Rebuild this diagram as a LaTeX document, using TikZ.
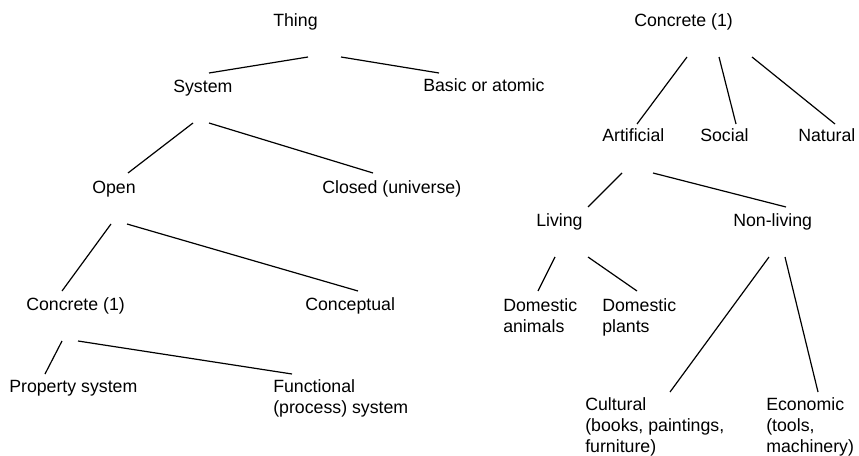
\documentclass[tikz,border=0pt]{standalone}
\usepackage{fontspec}
\setmainfont{Liberation Sans}
\usetikzlibrary{calc}

\tikzset{
  term/.style={anchor=base west, inner sep=0pt, align=left},
  branch/.style={line width=0.9pt}
}

\begin{document}
\begin{tikzpicture}[x=0.75pt, y=-0.75pt, font=\fontsize{13.3}{15.75}\selectfont]
		\useasboundingbox (0,0) rectangle (859,456);
		
		% Left tree (base west = baseline of the last line)
		\node[term] (thing) at (273,27) {Thing};
		\node[term] (system) at (173,93) {System};
		\node[term] (basic) at (423,92) {Basic or atomic};
		\node[term] (open) at (92,193) {Open};
		\node[term] (closed) at (322,193) {Closed (universe)};
		\node[term] (concL) at (26,310) {Concrete (1)};
		\node[term] (conceptual) at (305,310) {Conceptual};
		\node[term] (property) at (9,392) {Property system};
		\node[term] (functional) at (273,413) {Functional\\(process) system};
		
		% Right tree
		\node[term] (concR) at (634,27) {Concrete (1)};
		\node[term] (artificial) at (602,142) {Artificial};
		\node[term] (social) at (700,142) {Social};
		\node[term] (natural) at (798,142) {Natural};
		\node[term] (living) at (536,226) {Living};
		\node[term] (nonliving) at (733,226) {Non-living};
		\node[term] (animals) at (503,332) {Domestic\\animals};
		\node[term] (plants) at (602,332) {Domestic\\plants};
		\node[term] (cultural) at (585,452) {Cultural\\(books, paintings,\\furniture)};
		\node[term] (economic) at (766,452) {Economic\\(tools,\\machinery)};
		
		% Left branches
		\draw[branch] ($(thing.base west)+(35,30)$) -- ($(system.base west)+(36,-20)$);
		\draw[branch] ($(thing.base west)+(68,30)$) -- ($(basic.base west)+(16,-19)$);
		\draw[branch] ($(system.base west)+(20,30)$) -- ($(open.base west)+(36,-20)$);
		\draw[branch] ($(system.base west)+(36,30)$) -- ($(closed.base west)+(51,-20)$);
		\draw[branch] ($(open.base west)+(19,31)$) -- ($(concL.base west)+(36,-19)$);
		\draw[branch] ($(open.base west)+(35,31)$) -- ($(conceptual.base west)+(53,-19)$);
		\draw[branch] ($(concL.base west)+(36,31)$) -- ($(property.base west)+(36,-18)$);
		\draw[branch] ($(concL.base west)+(52,31)$) -- ($(functional.base west)+(19,-39)$);
		
		% Right branches
		\draw[branch] ($(concR.base west)+(53,30)$) -- ($(artificial.base west)+(35,-18)$);
		\draw[branch] ($(concR.base west)+(85,30)$) -- ($(social.base west)+(36,-18)$);
		\draw[branch] ($(concR.base west)+(118,30)$) -- ($(natural.base west)+(37,-18)$);
		\draw[branch] ($(artificial.base west)+(20,31)$) -- ($(living.base west)+(52,-19)$);
		\draw[branch] ($(artificial.base west)+(51,31)$) -- ($(nonliving.base west)+(53,-19)$);
		\draw[branch] ($(living.base west)+(19,31)$) -- ($(animals.base west)+(35,-41)$);
		\draw[branch] ($(living.base west)+(52,31)$) -- ($(plants.base west)+(35,-41)$);
		\draw[branch] ($(nonliving.base west)+(36,31)$) -- ($(cultural.base west)+(85,-60)$);
		\draw[branch] ($(nonliving.base west)+(52,31)$) -- ($(economic.base west)+(52,-60)$);
		
	\end{tikzpicture}
\end{document}
